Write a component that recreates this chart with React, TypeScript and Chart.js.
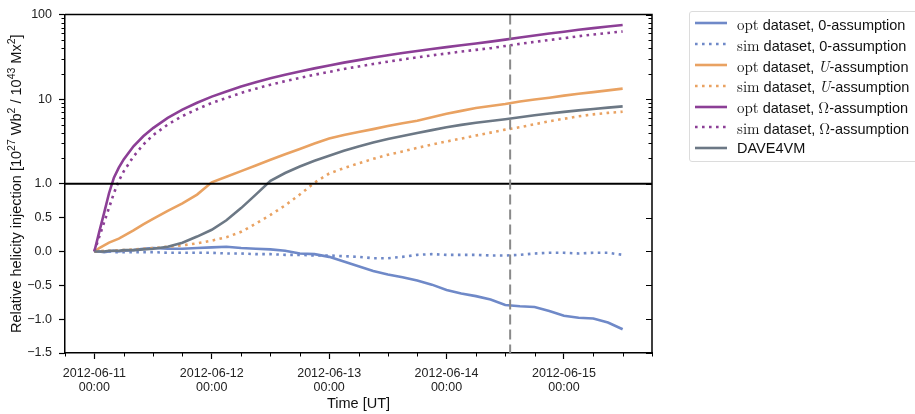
import React, { useEffect, useRef } from 'react';
import { Chart, LinearScale, registerables } from 'chart.js';

Chart.register(...registerables);

// ---------------- data ----------------
const HOURS = [0, 1, 2, 3, 4, 5, 6, 8, 10, 12, 15, 18, 21, 24, 27, 30, 33, 36, 39, 42, 45, 48, 51, 54, 57, 60, 63, 66, 69, 72, 75, 78, 81, 84, 87, 90, 93, 96, 99, 102, 105, 108];

const OPT_ZERO = [0, 0.0, -0.01, 0.0, 0.01, 0.0, 0.01, 0.02, 0.04, 0.05, 0.04, 0.04, 0.05, 0.06, 0.07, 0.05, 0.04, 0.03, 0.01, -0.03, -0.04, -0.08, -0.15, -0.22, -0.29, -0.34, -0.38, -0.43, -0.49, -0.57, -0.62, -0.66, -0.71, -0.79, -0.81, -0.82, -0.88, -0.95, -0.98, -0.99, -1.05, -1.15];
const SIM_ZERO = [0, 0, 0, 0, -0.01, -0.01, -0.01, -0.01, -0.01, -0.01, -0.02, -0.02, -0.02, -0.02, -0.03, -0.03, -0.04, -0.04, -0.05, -0.05, -0.06, -0.06, -0.07, -0.08, -0.1, -0.1, -0.08, -0.05, -0.04, -0.05, -0.05, -0.05, -0.06, -0.06, -0.05, -0.03, -0.02, -0.02, -0.03, -0.02, -0.02, -0.05];
const OPT_U = [0, 0.05, 0.09, 0.13, 0.16, 0.19, 0.23, 0.31, 0.4, 0.48, 0.6, 0.71, 0.84, 1.04, 1.21, 1.41, 1.64, 1.92, 2.23, 2.58, 2.99, 3.42, 3.76, 4.08, 4.42, 4.81, 5.19, 5.55, 6.1, 6.7, 7.26, 7.87, 8.3, 8.77, 9.38, 9.89, 10.4, 11.0, 11.6, 12.1, 12.7, 13.3];
const SIM_U = [0, 0, 0.01, 0.01, 0.01, 0.02, 0.02, 0.03, 0.04, 0.05, 0.07, 0.09, 0.12, 0.16, 0.21, 0.29, 0.41, 0.54, 0.68, 0.84, 1.03, 1.32, 1.53, 1.74, 1.97, 2.2, 2.41, 2.65, 2.9, 3.16, 3.42, 3.71, 4.02, 4.36, 4.66, 5.05, 5.48, 5.86, 6.27, 6.61, 6.88, 7.1];
const OPT_OMEGA = [0, 0.29, 0.57, 0.86, 1.18, 1.55, 1.94, 2.77, 3.64, 4.55, 5.99, 7.5, 9.06, 10.7, 12.3, 14.1, 15.8, 17.6, 19.4, 21.2, 23.1, 25.0, 27.0, 28.9, 31.0, 33.0, 35.0, 37.1, 39.2, 41.2, 43.4, 45.5, 47.8, 50.5, 53.5, 56.5, 59.5, 62.5, 66, 69, 72, 75];
const SIM_OMEGA = [0, 0.215, 0.43, 0.645, 0.86, 1.08, 1.4, 2.1, 2.9, 3.75, 5.0, 6.3, 7.6, 9.0, 10.3, 11.8, 13.3, 14.8, 16.3, 17.8, 19.4, 21.0, 22.7, 24.3, 26.0, 27.7, 29.4, 31.2, 32.9, 34.6, 36.5, 38.2, 40.0, 42.4, 45.0, 47.5, 50.0, 52.5, 55.4, 58.0, 60.5, 63.0];
const DAVE4VM = [0, 0, 0, 0.01, 0.01, 0.01, 0.02, 0.02, 0.03, 0.04, 0.07, 0.13, 0.22, 0.32, 0.46, 0.64, 0.84, 1.08, 1.34, 1.6, 1.87, 2.14, 2.45, 2.76, 3.07, 3.38, 3.66, 3.97, 4.3, 4.66, 4.96, 5.26, 5.52, 5.78, 6.1, 6.44, 6.76, 7.07, 7.36, 7.66, 7.94, 8.2];

const X_TICKS = [0, 24, 48, 72, 96];
const X_TICK_LABELS = [
  ['2012-06-11', '00:00'],
  ['2012-06-12', '00:00'],
  ['2012-06-13', '00:00'],
  ['2012-06-14', '00:00'],
  ['2012-06-15', '00:00'],
];
const Y_TICKS = [-1.5, -1, -0.5, 0, 0.5, 1, 10, 100];
const Y_TICK_LABELS = ['\u22121.5', '\u22121.0', '\u22120.5', '0.0', '0.5', '1.0', '10', '100'];
const Y_MINOR = [2, 3, 4, 5, 6, 7, 8, 9, 20, 30, 40, 50, 60, 70, 80, 90];
const X_MINOR = [-6, 6, 12, 18, 30, 36, 42, 54, 60, 66, 78, 84, 90, 102, 108, 114];
const EVENT_HOUR = 85;

const BLUE = '#6f89c8';
const ORANGE = '#e9a262';
const PURPLE = '#8c3f96';
const GRAY = '#6c7885';

const FONT = "'Liberation Sans', Arial, Helvetica, sans-serif";
const SERIF = "'Latin Modern Roman', 'DejaVu Serif', 'Liberation Serif', serif";

// ------------- hybrid linear / log scale -------------
const LIN_TOP = 1;
const DECADE_UNITS = 1.25;
const fwd = (v: number) => (v <= LIN_TOP ? v : LIN_TOP + DECADE_UNITS * Math.log10(v / LIN_TOP));
const inv = (t: number) => (t <= LIN_TOP ? t : LIN_TOP * Math.pow(10, (t - LIN_TOP) / DECADE_UNITS));

class HybridScale extends LinearScale {
  static id = 'hybridlog';
  static defaults = LinearScale.defaults;
  determineDataLimits() {
    (this as any).min = (this as any).options.min;
    (this as any).max = (this as any).options.max;
  }
  buildTicks() {
    return Y_TICKS.map((v) => ({ value: v }));
  }
  getPixelForValue(value: number) {
    const a = fwd((this as any).min);
    const b = fwd((this as any).max);
    return (this as any).getPixelForDecimal((fwd(value) - a) / (b - a));
  }
  getValueForPixel(pixel: number) {
    const a = fwd((this as any).min);
    const b = fwd((this as any).max);
    return inv(a + (this as any).getDecimalForPixel(pixel) * (b - a));
  }
}
Chart.register(HybridScale as any);

// ------------- legend spec -------------
type LegendEntry = { pre?: string; mid?: string; sym?: string; symStyle?: 'sans' | 'italic' | 'serif'; post?: string; color: string; dotted: boolean };
const LEGEND: LegendEntry[] = [
  { pre: 'opt', mid: ' dataset, ', sym: '0', symStyle: 'sans', post: '-assumption', color: BLUE, dotted: false },
  { pre: 'sim', mid: ' dataset, ', sym: '0', symStyle: 'sans', post: '-assumption', color: BLUE, dotted: true },
  { pre: 'opt', mid: ' dataset, ', sym: 'U', symStyle: 'italic', post: '-assumption', color: ORANGE, dotted: false },
  { pre: 'sim', mid: ' dataset, ', sym: 'U', symStyle: 'italic', post: '-assumption', color: ORANGE, dotted: true },
  { pre: 'opt', mid: ' dataset, ', sym: '\u03a9', symStyle: 'serif', post: '-assumption', color: PURPLE, dotted: false },
  { pre: 'sim', mid: ' dataset, ', sym: '\u03a9', symStyle: 'serif', post: '-assumption', color: PURPLE, dotted: true },
  { mid: 'DAVE4VM', color: GRAY, dotted: false },
];

const LINE_W = 2.6;
const DOT = [2.6, 4.4];

const extrasPlugin = {
  id: 'extras',
  afterDatasetsDraw(chart: any) {
    const { ctx, chartArea, scales } = chart;
    const { left, right, top, bottom } = chartArea;
    const x = scales.x;
    const y = scales.y;
    ctx.save();
    // boundary line at 1.0
    const y1 = y.getPixelForValue(1);
    ctx.strokeStyle = '#000';
    ctx.lineWidth = 1.8;
    ctx.beginPath();
    ctx.moveTo(left, y1);
    ctx.lineTo(right, y1);
    ctx.stroke();
    // event dashed line
    const xe = x.getPixelForValue(EVENT_HOUR);
    ctx.strokeStyle = '#8a8a8a';
    ctx.lineWidth = 2;
    ctx.setLineDash([10, 5]);
    ctx.beginPath();
    ctx.moveTo(xe, top);
    ctx.lineTo(xe, bottom);
    ctx.stroke();
    ctx.restore();
  },
  afterDraw(chart: any) {
    const { ctx, chartArea, scales } = chart;
    const { left, right, top, bottom } = chartArea;
    const x = scales.x;
    const y = scales.y;
    ctx.save();
    ctx.strokeStyle = '#000';
    // top and right spines
    ctx.lineWidth = 1.5;
    ctx.beginPath();
    ctx.moveTo(left, top);
    ctx.lineTo(right, top);
    ctx.lineTo(right, bottom);
    ctx.stroke();
    // minor y ticks (left outward, right inward)
    ctx.lineWidth = 1;
    ctx.beginPath();
    Y_MINOR.forEach((v) => {
      const p = Math.round(y.getPixelForValue(v)) + 0.5;
      ctx.moveTo(left - 3.5, p);
      ctx.lineTo(left, p);
      ctx.moveTo(right - 3.5, p);
      ctx.lineTo(right, p);
    });
    ctx.stroke();
    // right major ticks inward
    ctx.lineWidth = 1.2;
    ctx.beginPath();
    Y_TICKS.forEach((v) => {
      const p = Math.round(y.getPixelForValue(v)) + 0.5;
      ctx.moveTo(right - 6, p);
      ctx.lineTo(right, p);
    });
    ctx.stroke();
    // minor x ticks
    ctx.lineWidth = 1;
    ctx.beginPath();
    X_MINOR.forEach((h) => {
      const p = Math.round(x.getPixelForValue(h)) + 0.5;
      ctx.moveTo(p, bottom);
      ctx.lineTo(p, bottom + 3.5);
    });
    ctx.stroke();

    // axis titles
    ctx.fillStyle = '#111';
    ctx.font = `14.5px ${FONT}`;
    ctx.textAlign = 'center';
    ctx.textBaseline = 'alphabetic';
    ctx.fillText('Time [UT]', (left + right) / 2, 408);

    const parts: [string, boolean][] = [
      ['Relative helicity injection [10', false],
      ['27', true],
      [' Wb', false],
      ['2', true],
      [' / 10', false],
      ['43', true],
      [' Mx', false],
      ['2', true],
      [']', false],
    ];
    const big = `14.5px ${FONT}`;
    const small = `10.5px ${FONT}`;
    let total = 0;
    parts.forEach(([t, sup]) => {
      ctx.font = sup ? small : big;
      total += ctx.measureText(t).width;
    });
    ctx.translate(21, (top + bottom) / 2);
    ctx.rotate(-Math.PI / 2);
    ctx.textAlign = 'left';
    let cx = -total / 2;
    parts.forEach(([t, sup]) => {
      ctx.font = sup ? small : big;
      ctx.fillText(t, cx, sup ? -6 : 0);
      cx += ctx.measureText(t).width;
    });
    ctx.restore();
  },
};

function LegendSample({ color, dotted }: { color: string; dotted: boolean }) {
  return (
    <svg width={34} height={6} style={{ display: 'block', flex: '0 0 auto' }}>
      <line x1={1} y1={3} x2={33} y2={3} stroke={color} strokeWidth={LINE_W} strokeDasharray={dotted ? DOT.join(' ') : undefined} />
    </svg>
  );
}

export default function App() {
  const canvasRef = useRef<HTMLCanvasElement | null>(null);

  useEffect(() => {
    const canvas = canvasRef.current;
    if (!canvas) return;
    const toPts = (vals: number[]) => HOURS.map((h, i) => ({ x: h, y: vals[i] }));
    const mk = (label: string, vals: number[], color: string, dotted: boolean, order: number) => ({
      label,
      data: toPts(vals),
      borderColor: color,
      backgroundColor: color,
      borderWidth: LINE_W,
      borderDash: dotted ? DOT : [],
      borderCapStyle: 'butt',
      pointRadius: 0,
      fill: false,
      tension: 0,
      order,
    });
    const chart = new Chart(canvas, {
      type: 'line',
      data: {
        datasets: [
          mk('opt dataset, 0-assumption', OPT_ZERO, BLUE, false, 7),
          mk('sim dataset, 0-assumption', SIM_ZERO, BLUE, true, 6),
          mk('opt dataset, U-assumption', OPT_U, ORANGE, false, 5),
          mk('sim dataset, U-assumption', SIM_U, ORANGE, true, 4),
          mk('opt dataset, \u03a9-assumption', OPT_OMEGA, PURPLE, false, 3),
          mk('sim dataset, \u03a9-assumption', SIM_OMEGA, PURPLE, true, 2),
          mk('DAVE4VM', DAVE4VM, GRAY, false, 1),
        ] as any,
      },
      options: {
        animation: false,
        responsive: false,
        devicePixelRatio: 1,
        layout: { padding: { left: 0, top: 11, right: 263, bottom: 0 } },
        plugins: { legend: { display: false }, tooltip: { enabled: false } },
        scales: {
          x: {
            type: 'linear',
            min: -6,
            max: 114,
            afterBuildTicks: (a: any) => {
              a.ticks = X_TICKS.map((v) => ({ value: v }));
            },
            afterFit: (a: any) => {
              a.height = 61;
            },
            ticks: {
              callback: (_v: any, i: number) => X_TICK_LABELS[i],
              color: '#222',
              font: { family: FONT, size: 12.5, lineHeight: 1.08 },
              padding: 8,
              maxRotation: 0,
              autoSkip: false,
            },
            grid: { drawOnChartArea: false, drawTicks: true, tickLength: 6, tickWidth: 1.2, tickColor: '#000' },
            border: { display: true, color: '#000', width: 1.5 },
          },
          y: {
            type: 'hybridlog',
            min: -1.5,
            max: 100,
            afterFit: (a: any) => {
              a.width = 65;
            },
            ticks: {
              callback: (_v: any, i: number) => Y_TICK_LABELS[i],
              color: '#222',
              font: { family: FONT, size: 12.5 },
              padding: 7,
              autoSkip: false,
            },
            grid: { drawOnChartArea: false, drawTicks: true, tickLength: 6, tickWidth: 1.2, tickColor: '#000' },
            border: { display: true, color: '#000', width: 1.5 },
          },
        } as any,
      },
      plugins: [extrasPlugin],
    } as any);
    return () => chart.destroy();
  }, []);

  return (
    <div style={{ position: 'absolute', left: 0, top: 0, width: 915, height: 414, overflow: 'hidden', background: '#fff' }}>
      <canvas ref={canvasRef} width={915} height={414} style={{ display: 'block', width: 915, height: 414 }} />
      <div
        style={{
          position: 'absolute',
          left: 689,
          top: 11,
          width: 280,
          height: 151,
          boxSizing: 'border-box',
          border: '1px solid #dcdcdc',
          borderRadius: 3,
          background: 'rgba(255,255,255,0.8)',
          paddingTop: 1,
          fontFamily: FONT,
          fontSize: 14.5,
          color: '#111',
        }}
      >
        {LEGEND.map((e, i) => (
          <div key={i} style={{ display: 'flex', alignItems: 'center', height: 20.8, whiteSpace: 'nowrap' }}>
            <div style={{ width: 4 }} />
            <LegendSample color={e.color} dotted={e.dotted} />
            <div style={{ width: 9 }} />
            <span>
              {e.pre ? <span style={{ fontFamily: SERIF, fontSize: 15 }}>{e.pre}</span> : null}
              <span>{e.mid}</span>
              {e.sym ? (
                <span
                  style={{
                    fontFamily: e.symStyle === 'sans' ? FONT : SERIF,
                    fontStyle: e.symStyle === 'italic' ? 'italic' : 'normal',
                    fontSize: e.symStyle === 'sans' ? 14.5 : 15,
                  }}
                >
                  {e.sym}
                </span>
              ) : null}
              {e.post ? <span>{e.post}</span> : null}
            </span>
          </div>
        ))}
      </div>
    </div>
  );
}
